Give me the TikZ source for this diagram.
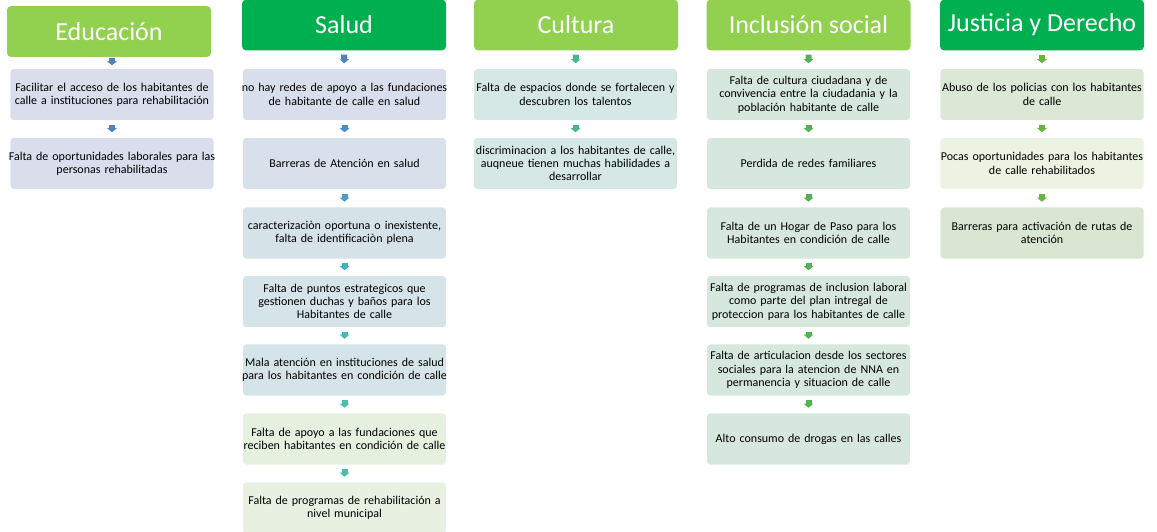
\documentclass[tikz,border=0pt]{standalone}
\usepackage{fontspec}
\setmainfont{Carlito}
\usetikzlibrary{arrows.meta}

\definecolor{hdrlight}{RGB}{146,208,80}
\definecolor{hdrdark}{RGB}{0,176,80}
\definecolor{edubox}{RGB}{217,221,236}
\definecolor{salA}{RGB}{216,222,236}
\definecolor{salB}{RGB}{215,224,235}
\definecolor{salC}{RGB}{213,227,233}
\definecolor{salD}{RGB}{213,228,232}
\definecolor{salE}{RGB}{213,229,231}
\definecolor{salF}{RGB}{229,240,223}
\definecolor{salG}{RGB}{232,241,225}
\definecolor{culbox}{RGB}{213,232,229}
\definecolor{incbox}{RGB}{214,232,222}
\definecolor{jusA}{RGB}{218,232,213}
\definecolor{jusB}{RGB}{236,243,226}
\definecolor{jusC}{RGB}{217,231,210}
\definecolor{arrA}{RGB}{79,129,189}
\definecolor{arrB}{RGB}{74,140,196}
\definecolor{arrC}{RGB}{73,158,198}
\definecolor{arrD}{RGB}{72,174,198}
\definecolor{arrE}{RGB}{72,184,184}
\definecolor{arrF}{RGB}{74,190,166}
\definecolor{arrG}{RGB}{66,184,136}
\definecolor{arrH}{RGB}{82,178,84}
\definecolor{arrI}{RGB}{104,180,62}

\tikzset{
  hdr/.style={rectangle,rounded corners=3pt,fill=hdrlight,text=white,
    minimum width=153pt,minimum height=38pt,inner sep=0pt,
    font=\fontsize{19.5}{22}\selectfont},
  itm/.style={rectangle,rounded corners=3pt,draw=white,line width=0.4pt,
    minimum width=153pt,minimum height=39pt,text width=160pt,
    inner xsep=-3.5pt,inner ysep=1.5pt,
    align=center,font=\fontsize{9}{10}\selectfont},
  arr/.style={line width=4.5pt,-{Triangle[width=7pt,length=3pt]},
    shorten <=3pt,shorten >=3.75pt}
}

\begin{document}
\begin{tikzpicture}[x=0.75pt,y=-0.75pt]
\useasboundingbox (0,0) rectangle (1157,532);
% headers
\node[hdr] (edu) at (109,31.5) {Educación};
\node[hdr,fill=hdrdark] (sal) at (344,25) {Salud};
\node[hdr] (cul) at (576,25) {Cultura};
\node[hdr] (inc) at (808.5,25) {Inclusión social};
\node[hdr,fill=hdrdark] (jus) at (1042,25) {Justicia y Derecho};
% educacion
\node[itm,fill=edubox] (e1) at (112,94.5) {Facilitar el acceso de los habitantes de\\calle a instituciones para rehabilitación};
\node[itm,fill=edubox] (e2) at (112,163.5) {Falta de oportunidades laborales para las\\personas rehabilitadas};
% salud
\node[itm,fill=salA] (s1) at (344.5,94.5) {no hay redes de apoyo a las fundaciones\\de habitante de calle en salud};
\node[itm,fill=salB] (s2) at (344.5,163.5) {Barreras de Atención en salud};
\node[itm,fill=salC] (s3) at (344.5,233) {caracterizaciòn oportuna o inexistente,\\falta de identificaciòn plena};
\node[itm,fill=salD] (s4) at (344.5,301.5) {Falta de puntos estrategicos que\\gestionen duchas y baños para los\\Habitantes de calle};
\node[itm,fill=salE] (s5) at (344.5,370) {Mala atención en instituciones de salud\\para los habitantes en condición de calle};
\node[itm,fill=salF] (s6) at (344.5,439) {Falta de apoyo a las fundaciones que\\reciben habitantes en condición de calle};
\node[itm,fill=salG] (s7) at (344.5,508) {Falta de programas de rehabilitación a\\nivel municipal};
% cultura
\node[itm,fill=culbox] (c1) at (575.5,94.5) {Falta de espacios donde se fortalecen y\\descubren los talentos};
\node[itm,fill=culbox] (c2) at (575.5,163.5) {discriminacion a los habitantes de calle,\\auqneue tienen muchas habilidades a\\desarrollar};
% inclusion social
\node[itm,fill=incbox] (i1) at (808.5,94.5) {Falta de cultura ciudadana y de\\convivencia entre la ciudadania y la\\población habitante de calle};
\node[itm,fill=incbox] (i2) at (808.5,163.5) {Perdida de redes familiares};
\node[itm,fill=incbox] (i3) at (808.5,233) {Falta de un Hogar de Paso para los\\Habitantes en condición de calle};
\node[itm,fill=incbox] (i4) at (808.5,301.5) {Falta de programas de inclusion laboral\\como parte del plan intregal de\\proteccion para los habitantes de calle};
\node[itm,fill=incbox] (i5) at (808.5,370) {Falta de articulacion desde los sectores\\sociales para la atencion de NNA en\\permanencia y situacion de calle};
\node[itm,fill=incbox] (i6) at (808.5,439) {Alto consumo de drogas en las calles};
% justicia y derecho
\node[itm,fill=jusA] (j1) at (1042,94.5) {Abuso de los policias con los habitantes\\de calle};
\node[itm,fill=jusB] (j2) at (1042,163.5) {Pocas oportunidades para los habitantes\\de calle rehabilitados};
\node[itm,fill=jusC] (j3) at (1042,233) {Barreras para activación de rutas de\\atención};
% arrows
\draw[arr,arrA,shorten <=1pt,shorten >=2.25pt] (edu.south -| e1) -- (e1);
\draw[arr,arrA] (e1) -- (e2);
\draw[arr,arrA] (sal) -- (s1);
\draw[arr,arrB] (s1) -- (s2);
\draw[arr,arrC] (s2) -- (s3);
\draw[arr,arrD] (s3) -- (s4);
\draw[arr,arrE] (s4) -- (s5);
\draw[arr,arrF] (s5) -- (s6);
\draw[arr,arrF] (s6) -- (s7);
\draw[arr,arrG] (cul) -- (c1);
\draw[arr,arrG] (c1) -- (c2);
\draw[arr,arrH] (inc) -- (i1);
\draw[arr,arrH] (i1) -- (i2);
\draw[arr,arrH] (i2) -- (i3);
\draw[arr,arrH] (i3) -- (i4);
\draw[arr,arrH] (i4) -- (i5);
\draw[arr,arrH] (i5) -- (i6);
\draw[arr,arrI] (jus) -- (j1);
\draw[arr,arrI] (j1) -- (j2);
\draw[arr,arrI] (j2) -- (j3);
\end{tikzpicture}
\end{document}
